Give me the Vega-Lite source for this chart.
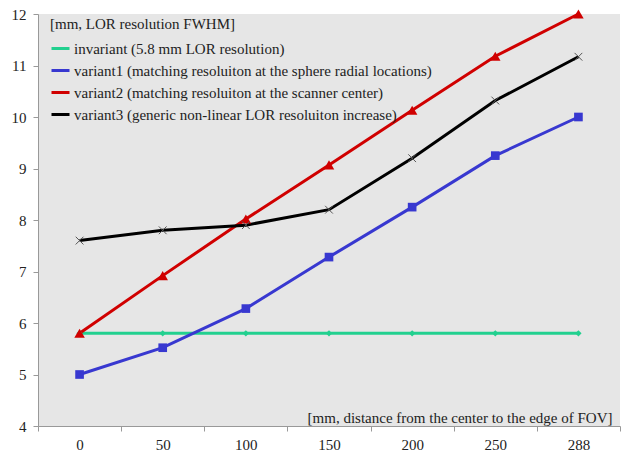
{
  "$schema": "https://vega.github.io/schema/vega-lite/v6.json",
  "width": 582,
  "height": 412,
  "autosize": {"type": "none"},
  "padding": {"left": 38, "top": 14, "right": 9, "bottom": 34},
  "background": "white",
  "config": {
    "font": "Times New Roman, Liberation Serif, serif",
    "view": {"fill": "#e6e6e6", "stroke": null},
    "axis": {"labelFont": "Times New Roman, Liberation Serif, serif", "titleFont": "Times New Roman, Liberation Serif, serif"},
    "legend": {"labelFont": "Times New Roman, Liberation Serif, serif", "titleFont": "Times New Roman, Liberation Serif, serif"}
  },
  "datasets": {
    "d": [
      {"x": "0", "s": "invariant (5.8 mm LOR resolution)", "y": 5.8},
      {"x": "50", "s": "invariant (5.8 mm LOR resolution)", "y": 5.8},
      {"x": "100", "s": "invariant (5.8 mm LOR resolution)", "y": 5.8},
      {"x": "150", "s": "invariant (5.8 mm LOR resolution)", "y": 5.8},
      {"x": "200", "s": "invariant (5.8 mm LOR resolution)", "y": 5.8},
      {"x": "250", "s": "invariant (5.8 mm LOR resolution)", "y": 5.8},
      {"x": "288", "s": "invariant (5.8 mm LOR resolution)", "y": 5.8},
      {"x": "0", "s": "variant1 (matching resoluiton at the sphere radial locations)", "y": 5.0},
      {"x": "50", "s": "variant1 (matching resoluiton at the sphere radial locations)", "y": 5.52},
      {"x": "100", "s": "variant1 (matching resoluiton at the sphere radial locations)", "y": 6.28},
      {"x": "150", "s": "variant1 (matching resoluiton at the sphere radial locations)", "y": 7.28},
      {"x": "200", "s": "variant1 (matching resoluiton at the sphere radial locations)", "y": 8.25},
      {"x": "250", "s": "variant1 (matching resoluiton at the sphere radial locations)", "y": 9.25},
      {"x": "288", "s": "variant1 (matching resoluiton at the sphere radial locations)", "y": 10.0},
      {"x": "0", "s": "variant2 (matching resoluiton at the scanner center)", "y": 5.8},
      {"x": "50", "s": "variant2 (matching resoluiton at the scanner center)", "y": 6.92},
      {"x": "100", "s": "variant2 (matching resoluiton at the scanner center)", "y": 8.02},
      {"x": "150", "s": "variant2 (matching resoluiton at the scanner center)", "y": 9.07},
      {"x": "200", "s": "variant2 (matching resoluiton at the scanner center)", "y": 10.13},
      {"x": "250", "s": "variant2 (matching resoluiton at the scanner center)", "y": 11.18},
      {"x": "288", "s": "variant2 (matching resoluiton at the scanner center)", "y": 12.0},
      {"x": "0", "s": "variant3 (generic non-linear LOR resoluiton increase)", "y": 7.6},
      {"x": "50", "s": "variant3 (generic non-linear LOR resoluiton increase)", "y": 7.8},
      {"x": "100", "s": "variant3 (generic non-linear LOR resoluiton increase)", "y": 7.9},
      {"x": "150", "s": "variant3 (generic non-linear LOR resoluiton increase)", "y": 8.2},
      {"x": "200", "s": "variant3 (generic non-linear LOR resoluiton increase)", "y": 9.2},
      {"x": "250", "s": "variant3 (generic non-linear LOR resoluiton increase)", "y": 10.32},
      {"x": "288", "s": "variant3 (generic non-linear LOR resoluiton increase)", "y": 11.17}
    ]
  },
  "data": {"name": "d"},
  "encoding": {
    "x": {
      "field": "x",
      "type": "ordinal",
      "sort": ["0", "50", "100", "150", "200", "250", "288"],
      "scale": {"type": "band", "paddingInner": 0, "paddingOuter": 0},
      "axis": {
        "title": "[mm, distance from the center to the edge of FOV]",
        "titleFontSize": 15,
        "titleFontWeight": "normal",
        "titleColor": "#222",
        "titleAlign": "right",
        "titleAnchor": "end",
        "titleX": 574,
        "titleY": -16,
        "tickBand": "extent",
        "labelAngle": 0,
        "labelFontSize": 15,
        "labelColor": "#222",
        "labelPadding": 6,
        "domainColor": "#999",
        "tickColor": "#999",
        "tickSize": 5,
        "grid": false
      }
    },
    "y": {
      "field": "y",
      "type": "quantitative",
      "scale": {"domain": [4, 12], "nice": false, "zero": false},
      "axis": {
        "title": null,
        "values": [4, 5, 6, 7, 8, 9, 10, 11, 12],
        "labelOverlap": false,
        "labelFontSize": 15,
        "labelColor": "#222",
        "labelPadding": 7,
        "domainColor": "#999",
        "tickColor": "#999",
        "tickSize": 5,
        "grid": false
      }
    }
  },
  "layer": [
    {
      "mark": {"type": "line", "strokeWidth": 3},
      "encoding": {
        "color": {
          "field": "s",
          "type": "nominal",
          "scale": {
            "domain": [
              "invariant (5.8 mm LOR resolution)",
              "variant1 (matching resoluiton at the sphere radial locations)",
              "variant2 (matching resoluiton at the scanner center)",
              "variant3 (generic non-linear LOR resoluiton increase)"
            ],
            "range": ["#22d08f", "#3838d0", "#d00000", "#000000"]
          },
          "legend": {
            "title": "[mm, LOR resolution FWHM]",
            "orient": "none",
            "legendX": 12,
            "legendY": 3,
            "titleFontSize": 15,
            "titleFontWeight": "normal",
            "titleColor": "#222",
            "titleLimit": 500,
            "titlePadding": 6,
            "labelFontSize": 15,
            "labelColor": "#222",
            "labelOffset": 3,
            "labelLimit": 500,
            "symbolType": "stroke",
            "symbolStrokeWidth": 3,
            "symbolSize": 324,
            "rowPadding": 3
          }
        },
        "strokeWidth": {
          "condition": {"test": "datum.s == 'invariant (5.8 mm LOR resolution)'", "value": 4},
          "value": 3
        }
      }
    },
    {
      "transform": [{"filter": "datum.s != 'variant3 (generic non-linear LOR resoluiton increase)'"}],
      "mark": {"type": "point", "filled": true, "opacity": 1},
      "encoding": {
        "color": {"field": "s", "type": "nominal", "legend": null},
        "shape": {
          "field": "s",
          "type": "nominal",
          "legend": null,
          "scale": {
            "domain": [
              "invariant (5.8 mm LOR resolution)",
              "variant1 (matching resoluiton at the sphere radial locations)",
              "variant2 (matching resoluiton at the scanner center)"
            ],
            "range": ["diamond", "square", "triangle-up"]
          }
        },
        "size": {
          "field": "s",
          "type": "nominal",
          "legend": null,
          "scale": {
            "domain": [
              "invariant (5.8 mm LOR resolution)",
              "variant1 (matching resoluiton at the sphere radial locations)",
              "variant2 (matching resoluiton at the scanner center)"
            ],
            "range": [40, 110, 30]
          }
        }
      }
    },
    {
      "transform": [{"filter": "datum.s == 'variant3 (generic non-linear LOR resoluiton increase)'"}],
      "mark": {"type": "point", "filled": false, "shape": "M-1,-1L1,1M-1,1L1,-1", "size": 60, "stroke": "#555", "strokeWidth": 1, "opacity": 1},
      "encoding": {}
    }
  ]
}
